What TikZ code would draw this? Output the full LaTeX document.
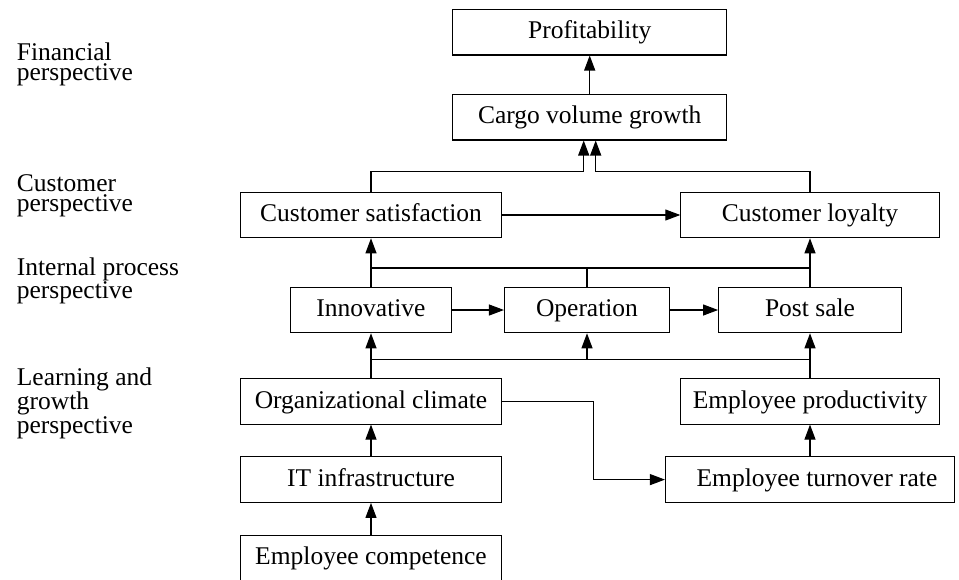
\documentclass[tikz,border=0pt]{standalone}
\usepackage{fontspec}
\setmainfont{Liberation Serif}
\usetikzlibrary{arrows.meta,positioning}
\tikzstyle{block}=[draw,rectangle,minimum height=45.5pt,inner sep=0pt,text height=18pt,text depth=4.6pt,line width=1.1pt]
\tikzstyle{flow}=[->,>={Triangle[length=15pt,width=11pt]},line width=1.1pt]
\tikzstyle{wire}=[line width=1.1pt]
\tikzstyle{persp}=[align=left,inner sep=0pt,anchor=north west,font=\fontsize{25.5}{20.5}\selectfont]

\begin{document}
\begin{tikzpicture}[x=1pt,y=-1pt,font=\fontsize{25.5}{30}\selectfont,
    node distance=85pt]
    \useasboundingbox (0,0) rectangle (959,579);

    % perspectives
    \node[persp] (fin) at (16.7,42.6) {Financial\\perspective};
    \node[persp] (cus) at (16.7,174.4) {Customer\\perspective};
    \node[persp] (int) at (16.7,257.6) {Internal process\\perspective};
    \node[persp] (lrn) at (16.7,367.8) {Learning and\\growth\\perspective};

    % financial
    \node[block,minimum width=274pt] (prof) at (589.7,32.2) {Profitability};
    \node[block,minimum width=274pt] (cargo) [below of=prof] {Cargo volume growth};

    % customer
    \node[block,minimum width=261.7pt] (cs) at (371,215) {Customer satisfaction};
    \node[block,minimum width=258.3pt] (cl) [node distance=439pt,right of=cs] {Customer loyalty};

    % internal process
    \node[block,minimum width=161.4pt] (inno) [node distance=95pt,below of=cs] {Innovative};
    \node[block,minimum width=165pt] (oper) [node distance=216pt,right of=inno] {Operation};
    \node[block,minimum width=182.7pt] (post) [node distance=223pt,right of=oper] {Post sale};

    % learning and growth
    \node[block,minimum width=261.7pt] (org) [node distance=91.3pt,below of=inno] {Organizational climate};
    \node[block,minimum width=261.7pt] (it) [node distance=78.3pt,below of=org] {IT infrastructure};
    \node[block,minimum width=261.7pt] (comp) [node distance=78.3pt,below of=it] {Employee competence};
    \node[block,minimum width=259pt] (prod) [node distance=439pt,right of=org] {Employee productivity};
    \node[block,minimum width=289pt] (turn) [node distance=78.3pt,below of=prod] {\hspace{14pt}Employee turnover rate};

    \coordinate (up) at ([yshift=18.7pt]inno.north);
    \coordinate (down) at ([yshift=-26.3pt]inno.south);

    \draw[flow] (cargo) -- (prof);
    \draw[flow] (cs.north) |- ([xshift=-6pt,yshift=-30.7pt]cargo.south) -- ([xshift=-6pt]cargo.south);
    \draw[flow] (cl.north) |- ([xshift=6pt,yshift=-30.7pt]cargo.south) -- ([xshift=6pt]cargo.south);
    \draw[flow] (cs) -- (cl);

    \draw[flow] (inno) -- (cs);
    \draw[flow] (post) -- (cl);
    \draw[wire] (up) -- (post |- up);
    \draw[wire] (oper) -- (oper |- up);
    \draw[flow] (inno) -- (oper);
    \draw[flow] (oper) -- (post);

    \draw[flow] (org) -- (inno);
    \draw[flow] (prod) -- (post);
    \draw[wire] (down) -- (post |- down);
    \draw[flow] (oper |- down) -- (oper);

    \draw[flow] (it) -- (org);
    \draw[flow] (comp) -- (it);
    \draw[flow] (turn) -- (prod);
    \draw[flow] (org.east) -- ++(91,0) |- (turn.west);
\end{tikzpicture}
\end{document}
